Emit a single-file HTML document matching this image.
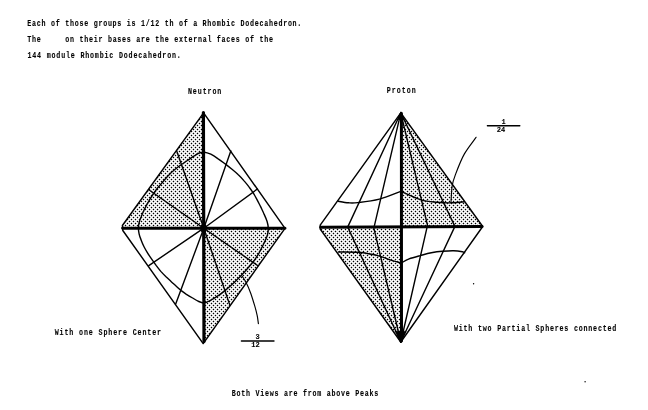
<!DOCTYPE html>
<html><head><meta charset="utf-8"><style>
html,body{margin:0;padding:0;background:#fff;}
body{width:648px;height:410px;overflow:hidden;font-family:"Liberation Mono",monospace;}
svg{display:block;position:absolute;left:0;top:0;}
.tx{opacity:0.999;will-change:transform;}
</style></head><body>
<svg width="648" height="410" viewBox="0 0 648 410">
<rect width="648" height="410" fill="#fff"/>
<defs><pattern id="st" x="0" y="0" width="4" height="4" patternUnits="userSpaceOnUse"><rect x="1" y="1" width="1" height="1" fill="#000"/><rect x="2" y="1" width="1" height="1" fill="#000" fill-opacity="0.20"/><rect x="0" y="1" width="1" height="1" fill="#000" fill-opacity="0.20"/><rect x="1" y="2" width="1" height="1" fill="#000" fill-opacity="0.20"/><rect x="1" y="0" width="1" height="1" fill="#000" fill-opacity="0.20"/><rect x="3" y="3" width="1" height="1" fill="#000"/><rect x="0" y="3" width="1" height="1" fill="#000" fill-opacity="0.20"/><rect x="2" y="3" width="1" height="1" fill="#000" fill-opacity="0.20"/><rect x="3" y="0" width="1" height="1" fill="#000" fill-opacity="0.20"/><rect x="3" y="2" width="1" height="1" fill="#000" fill-opacity="0.20"/></pattern></defs>
<polygon fill="url(#st)" points="203.6,112.9 203.8,228.2 122.4,228.2 122.4,225.5"/>
<polygon fill="url(#st)" points="203.8,228.2 285.0,228.3 203.2,343.6"/>
<polygon fill="url(#st)" points="400.8,112.8 401.6,226.8 482.7,226.5"/>
<polygon fill="url(#st)" points="320.2,227.2 401.6,226.8 400.8,342.0 320.2,229.0"/>
<g stroke="#000" fill="none" stroke-linecap="round" stroke-linejoin="round">
<polygon points="203.6,112.9 285.0,228.3 203.2,343.6 122.8,230.5 122.4,225.5" stroke-width="1.45"/>
<line x1="203.8" y1="228.2" x2="176.7" y2="150.9" stroke-width="1.4"/>
<line x1="203.8" y1="228.2" x2="148.8" y2="189.8" stroke-width="1.4"/>
<line x1="203.8" y1="228.2" x2="230.8" y2="150.9" stroke-width="1.4"/>
<line x1="203.8" y1="228.2" x2="257.4" y2="189.0" stroke-width="1.4"/>
<line x1="203.8" y1="228.2" x2="148.8" y2="265.6" stroke-width="1.4"/>
<line x1="203.8" y1="228.2" x2="175.6" y2="304.3" stroke-width="1.4"/>
<line x1="203.8" y1="228.2" x2="256.8" y2="265.0" stroke-width="1.4"/>
<line x1="203.8" y1="228.2" x2="229.9" y2="305.4" stroke-width="1.4"/>
<path d="M204.5,152.2 C206.4,152.4 208.5,153.2 210.8,154.2 C213.0,155.3 215.4,156.9 217.8,158.6 C220.3,160.2 222.8,162.1 225.2,163.9 C227.5,165.7 229.8,167.5 232.0,169.3 C234.2,171.1 236.3,172.8 238.3,174.8 C240.4,176.8 242.5,179.0 244.3,181.1 C246.1,183.1 247.8,185.3 249.2,187.2 C250.7,189.1 251.8,190.7 253.0,192.7 C254.3,194.6 255.4,196.6 256.6,198.9 C257.9,201.3 259.3,204.1 260.6,206.6 C261.8,209.2 263.2,211.9 264.2,214.4 C265.3,216.8 266.4,219.2 267.1,221.5 C267.8,223.8 268.2,226.0 268.3,228.2 C268.4,230.4 268.0,232.6 267.5,234.6 C267.0,236.7 266.1,238.7 265.2,240.6 C264.4,242.6 263.4,244.5 262.4,246.5 C261.4,248.4 260.4,250.4 259.4,252.3 C258.3,254.2 257.2,256.1 256.0,257.9 C254.8,259.7 253.5,261.4 252.0,263.2 C250.6,265.0 248.9,266.9 247.3,268.7 C245.7,270.6 244.0,272.5 242.3,274.3 C240.6,276.1 239.0,277.8 237.2,279.6 C235.4,281.4 233.4,283.3 231.4,285.1 C229.4,287.0 227.1,288.9 225.0,290.6 C222.9,292.3 220.7,293.9 218.6,295.3 C216.5,296.7 214.4,298.0 212.6,299.1 C210.7,300.2 209.0,301.3 207.4,301.9 C205.9,302.5 204.9,303.0 203.4,303.0 C202.0,302.9 200.6,302.3 198.8,301.5 C196.9,300.7 194.6,299.2 192.6,298.0 C190.5,296.8 188.3,295.5 186.4,294.3 C184.6,293.1 182.9,291.9 181.2,290.6 C179.6,289.3 178.1,288.0 176.5,286.5 C174.9,285.0 173.2,283.5 171.5,281.9 C169.7,280.2 167.8,278.5 166.0,276.8 C164.2,275.0 162.5,273.3 160.8,271.4 C159.2,269.5 157.7,267.5 156.1,265.4 C154.6,263.3 153.0,261.0 151.5,258.9 C150.1,256.9 148.7,254.9 147.5,252.9 C146.2,250.8 145.0,248.7 143.9,246.5 C142.9,244.4 141.9,242.0 141.1,239.9 C140.2,237.8 139.5,235.9 139.1,233.9 C138.7,231.9 138.4,230.0 138.4,228.1 C138.4,226.1 138.8,224.2 139.2,222.2 C139.7,220.3 140.4,218.5 141.2,216.7 C141.9,214.8 142.7,213.0 143.5,211.2 C144.4,209.3 145.3,207.6 146.3,205.6 C147.4,203.6 148.6,201.5 149.8,199.4 C151.0,197.4 152.4,195.3 153.6,193.5 C154.8,191.7 155.8,190.3 157.0,188.8 C158.2,187.3 159.4,186.0 160.7,184.4 C162.0,182.9 163.4,181.2 164.8,179.5 C166.2,177.8 167.7,176.0 169.4,174.4 C171.0,172.7 172.9,171.1 174.8,169.5 C176.7,168.0 178.7,166.5 180.8,165.0 C183.0,163.5 185.3,162.0 187.4,160.5 C189.6,159.0 191.9,157.4 193.9,156.1 C195.8,154.9 197.5,153.6 199.3,153.0 C201.0,152.3 202.6,152.0 204.5,152.2 Z" stroke-width="1.40"/>
<path d="M242.1,276.1 C242.8,277.2 244.6,279.5 246.1,282.4 C247.6,285.3 249.4,289.5 250.8,293.5 C252.2,297.5 253.7,302.5 254.8,306.2 C255.9,309.9 256.6,312.8 257.2,315.7 C257.8,318.6 258.2,322.3 258.4,323.6" stroke-width="1.15"/>
<line x1="203.4" y1="112.6" x2="204.0" y2="341.5" stroke-width="3.2"/>
<line x1="122.6" y1="228.2" x2="285.0" y2="228.3" stroke-width="3.0"/>
<polygon points="400.8,112.8 482.7,226.5 400.8,342.0 320.2,229.0 320.2,225.2" stroke-width="1.45"/>
<line x1="400.8" y1="112.8" x2="347.9" y2="226.6" stroke-width="1.4"/>
<line x1="400.8" y1="112.8" x2="374.2" y2="226.6" stroke-width="1.4"/>
<line x1="400.8" y1="112.8" x2="427.8" y2="226.6" stroke-width="1.4"/>
<line x1="400.8" y1="112.8" x2="455.0" y2="226.6" stroke-width="1.4"/>
<line x1="400.8" y1="342.0" x2="347.5" y2="226.6" stroke-width="1.4"/>
<line x1="400.8" y1="342.0" x2="373.5" y2="226.6" stroke-width="1.4"/>
<line x1="400.8" y1="342.0" x2="427.2" y2="226.6" stroke-width="1.4"/>
<line x1="400.8" y1="342.0" x2="454.8" y2="226.6" stroke-width="1.4"/>
<path d="M338.2,201.2 C339.9,201.5 345.2,202.6 348.5,202.8 C351.8,203.0 352.7,203.2 357.8,202.6 C362.9,202.0 372.2,201.0 379.4,199.1 C386.6,197.2 397.4,192.6 401.0,191.3" stroke-width="1.40"/>
<path d="M401.0,191.3 C404.3,192.7 415.0,198.0 421.0,199.8 C427.0,201.6 431.9,201.7 437.0,202.2 C442.1,202.7 447.4,202.9 451.9,202.8 C456.4,202.7 462.1,202.0 464.2,201.8" stroke-width="1.40"/>
<path d="M338.4,252.0 C341.7,252.1 352.6,251.9 358.2,252.3 C363.8,252.7 367.9,253.6 371.7,254.3 C375.5,255.0 377.8,255.6 381.2,256.7 C384.6,257.8 388.9,259.6 392.3,260.7 C395.7,261.8 399.8,262.6 401.3,263.0" stroke-width="1.40"/>
<path d="M401.3,263.0 C402.6,262.3 406.0,260.1 409.1,258.9 C412.2,257.7 416.5,256.6 420.2,255.6 C423.9,254.6 427.6,253.5 431.3,252.8 C435.0,252.1 438.7,251.6 442.4,251.3 C446.1,251.0 450.3,250.7 453.6,250.8 C456.9,250.9 460.5,251.4 462.4,251.7 C464.2,252.0 464.3,252.6 464.7,252.8" stroke-width="1.40"/>
<path d="M476.1,137.3 C474.2,140.1 467.8,147.9 464.4,153.9 C461.0,159.9 457.9,168.1 455.9,173.4 C453.9,178.7 453.0,180.7 452.2,185.6 C451.4,190.5 451.2,199.8 451.0,202.7" stroke-width="1.15"/>
<line x1="401.4" y1="113.5" x2="401.5" y2="341.0" stroke-width="3.0"/>
<line x1="320.6" y1="227.2" x2="482.0" y2="226.6" stroke-width="3.0"/>
<polygon fill="#000" stroke-width="0.5" points="395.6,331.2 406.0,331.2 400.8,342.6"/>
<polygon fill="#000" stroke-width="0.5" points="400.8,112 397.8,119.5 403.8,119.5"/>
<circle cx="473.6" cy="283.8" r="0.7" fill="#000" stroke="none"/>
<circle cx="585.1" cy="381.7" r="0.7" fill="#000" stroke="none"/>
<ellipse cx="203.6" cy="228.3" rx="3.2" ry="4.6" fill="#000" stroke="none"/>
<line x1="241.4" y1="341.0" x2="274.0" y2="341.0" stroke-width="1.4"/>
<line x1="487.4" y1="125.8" x2="519.8" y2="125.8" stroke-width="1.4"/>
</g>
<g class="tx" font-family="Liberation Mono, monospace" font-weight="bold" fill="#000" stroke="#000" stroke-width="0.1">
<text transform="translate(27.36,25.70) scale(0.800,1)" font-size="8.35" textLength="342.50" lengthAdjust="spacing" xml:space="preserve">Each of those groups is 1/12 th of a Rhombic Dodecahedron.</text>
<text transform="translate(27.36,41.90) scale(0.800,1)" font-size="8.35" textLength="307.02" lengthAdjust="spacing" xml:space="preserve">The     on their bases are the external faces of the</text>
<text transform="translate(27.39,57.80) scale(0.800,1)" font-size="8.35" textLength="191.79" lengthAdjust="spacing" xml:space="preserve">144 module Rhombic Dodecahedron.</text>
<text transform="translate(187.98,93.70) scale(0.800,1)" font-size="8.35" textLength="41.75" lengthAdjust="spacing" xml:space="preserve">Neutron</text>
<text transform="translate(386.81,93.10) scale(0.800,1)" font-size="8.35" textLength="36.25" lengthAdjust="spacing" xml:space="preserve">Proton</text>
<text transform="translate(54.71,334.60) scale(0.800,1)" font-size="8.35" textLength="132.99" lengthAdjust="spacing" xml:space="preserve">With one Sphere Center</text>
<text transform="translate(453.98,331.00) scale(0.800,1)" font-size="8.35" textLength="202.89" lengthAdjust="spacing" xml:space="preserve">With two Partial Spheres connected</text>
<text transform="translate(231.76,395.50) scale(0.800,1)" font-size="8.35" textLength="183.25" lengthAdjust="spacing" xml:space="preserve">Both Views are from above Peaks</text>
<text x="255.40" y="338.80" font-size="7.00" xml:space="preserve">3</text>
<text x="251.20" y="346.80" font-size="7.00" xml:space="preserve">12</text>
<text x="501.60" y="124.00" font-size="7.00" xml:space="preserve">1</text>
<text x="496.80" y="131.80" font-size="7.00" xml:space="preserve">24</text>
</g>
</svg>
</body></html>
